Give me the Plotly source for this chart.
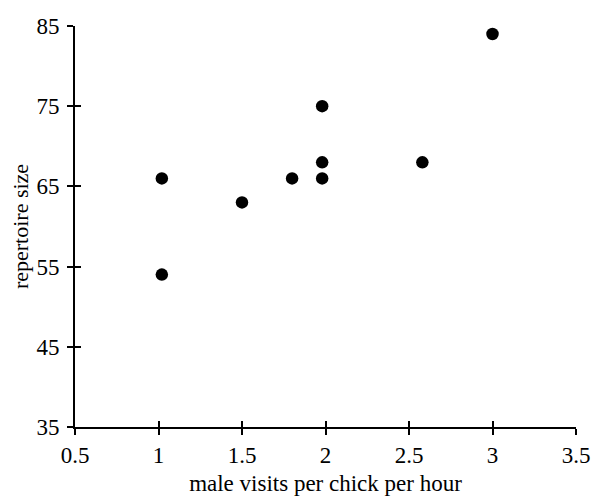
import plotly.graph_objects as go

visits = [1.02, 1.02, 1.50, 1.80, 1.98, 1.98, 1.98, 2.58, 3.00]
repertoire = [66, 54, 63, 66, 75, 68, 66, 68, 84]

x_ticks = [0.5, 1, 1.5, 2, 2.5, 3, 3.5]
x_labels = ["0.5", "1", "1.5", "2", "2.5", "3", "3.5"]
y_ticks = [35, 45, 55, 65, 75, 85]

FONT = "Liberation Serif, Times New Roman, serif"

fig = go.Figure()
fig.add_trace(go.Scatter(x=visits, y=repertoire, mode="markers",
                         marker=dict(color="black", size=12.5),
                         showlegend=False, hoverinfo="x+y"))
# invisible twin trace so overlay axes (inside half of crossing ticks) render
fig.add_trace(go.Scatter(x=visits, y=repertoire, mode="markers", xaxis="x2", yaxis="y2",
                         marker=dict(color="rgba(0,0,0,0)", size=1),
                         showlegend=False, hoverinfo="skip"))

common = dict(showgrid=False, zeroline=False, showline=True, linecolor="black",
              linewidth=2, tickcolor="black", tickwidth=2, ticklen=6, automargin=False)

fig.update_layout(
    width=593, height=497,
    margin=dict(l=75, r=17, t=26, b=70),
    paper_bgcolor="white", plot_bgcolor="white",
    font=dict(family=FONT, size=23, color="black"),
    xaxis=dict(range=[0.5, 3.5], tickvals=x_ticks, ticktext=x_labels, ticks="outside",
               ticklabeloverflow="allow",
               title=dict(text="male visits per chick per hour", standoff=8,
                          font=dict(size=23)),
               tickfont=dict(size=23), **common),
    yaxis=dict(range=[35, 85], tickvals=y_ticks, ticks="outside",
               ticklabelstandoff=3,
               title=dict(text="repertoire size", standoff=2, font=dict(size=22)),
               tickfont=dict(size=23), **common),
    xaxis2=dict(overlaying="x", matches="x", side="bottom", range=[0.5, 3.5],
                tickvals=x_ticks, ticks="inside", showticklabels=False, **common),
    yaxis2=dict(overlaying="y", matches="y", side="left", range=[35, 85],
                tickvals=y_ticks, ticks="inside", showticklabels=False, **common),
)

fig.write_html("out.html", config={"displayModeBar": False},
               post_script="document.body.style.margin='0';document.body.style.overflow='hidden';")
